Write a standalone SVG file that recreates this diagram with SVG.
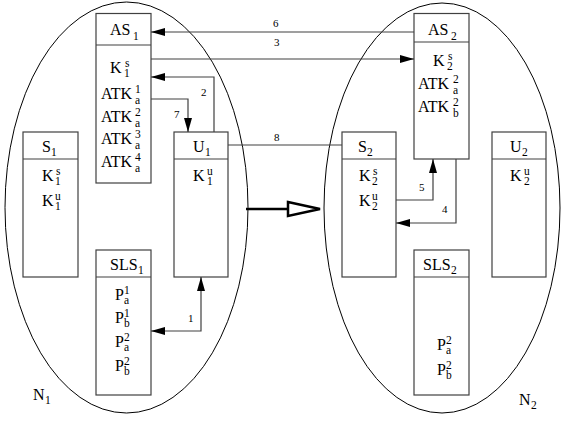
<svg xmlns="http://www.w3.org/2000/svg" width="561" height="421" viewBox="0 0 561 421" font-family="'Liberation Serif', 'Times New Roman', 'DejaVu Serif', serif">
<style>
text{font-family:'Liberation Serif','Times New Roman','DejaVu Serif',serif;fill:#000}
.m{font-size:16px}
.s{font-size:11.5px}
.l{font-size:11px}
.box{fill:#fff;stroke:#404040;stroke-width:1.2}
.div{stroke:#404040;stroke-width:1.2}
.net{fill:none;stroke:#000;stroke-width:1}
.c{fill:none;stroke:#404040;stroke-width:1.2}
</style>
<defs>
<marker id="ah" markerUnits="userSpaceOnUse" markerWidth="15" markerHeight="9" refX="14" refY="4" orient="auto-start-reverse" viewBox="0 0 15 9">
<path d="M0,0 L14,4 L0,8 z" fill="#000"/>
</marker>
</defs>
<g id="N1">
<ellipse class="net" cx="126.5" cy="207.5" rx="121.5" ry="205.5"/>
<text class="m" x="33" y="400">N</text><text class="s" x="45" y="404">1</text>
</g>
<g id="N2">
<ellipse class="net" cx="442" cy="208" rx="118" ry="205"/>
<text class="m" x="519" y="405">N</text><text class="s" x="531" y="409">2</text>
</g>
<g id="AS1">
<rect class="box" x="96" y="13.5" width="55" height="169.5"/>
<line class="div" x1="96" y1="45" x2="151" y2="45"/>
<text class="m" x="110" y="35">AS</text><text class="s" x="133" y="40">1</text>
<text class="m" x="110" y="73">K</text><text class="s" x="125" y="67">s</text><text class="s" x="124" y="77">1</text>
<text class="m" x="101" y="99">ATK</text><text class="s" x="135" y="93">1</text><text class="s" x="135" y="104">a</text>
<text class="m" x="101" y="122">ATK</text><text class="s" x="135" y="116">2</text><text class="s" x="135" y="127">a</text>
<text class="m" x="101" y="144">ATK</text><text class="s" x="135" y="138">3</text><text class="s" x="135" y="149">a</text>
<text class="m" x="101" y="167">ATK</text><text class="s" x="135" y="161">4</text><text class="s" x="135" y="172">a</text>
</g>
<g id="S1">
<rect class="box" x="23" y="132" width="55" height="145"/>
<line class="div" x1="23" y1="159" x2="78" y2="159"/>
<text class="m" x="42" y="152">S</text><text class="s" x="51" y="156">1</text>
<text class="m" x="42" y="181">K</text><text class="s" x="56" y="175">s</text><text class="s" x="55" y="185">1</text>
<text class="m" x="42" y="206">K</text><text class="s" x="55" y="200">u</text><text class="s" x="55" y="210">1</text>
</g>
<g id="U1">
<rect class="box" x="174" y="132" width="54" height="145"/>
<line class="div" x1="174" y1="159" x2="228" y2="159"/>
<text class="m" x="193" y="152">U</text><text class="s" x="205" y="156">1</text>
<text class="m" x="193" y="181">K</text><text class="s" x="207" y="175">u</text><text class="s" x="207" y="185">1</text>
</g>
<g id="SLS1">
<rect class="box" x="96" y="250" width="55" height="145"/>
<line class="div" x1="96" y1="277" x2="151" y2="277"/>
<text class="m" x="110" y="270">SLS</text><text class="s" x="138" y="274">1</text>
<text class="m" x="115" y="300">P</text><text class="s" x="124" y="294">1</text><text class="s" x="124" y="304">a</text>
<text class="m" x="115" y="323">P</text><text class="s" x="124" y="317">1</text><text class="s" x="124" y="327">b</text>
<text class="m" x="115" y="347">P</text><text class="s" x="124" y="341">2</text><text class="s" x="124" y="351">a</text>
<text class="m" x="115" y="371">P</text><text class="s" x="124" y="365">2</text><text class="s" x="124" y="375">b</text>
</g>
<g id="AS2">
<rect class="box" x="414" y="13.5" width="55" height="145.5"/>
<line class="div" x1="414" y1="42" x2="469" y2="42"/>
<text class="m" x="428" y="35">AS</text><text class="s" x="451" y="40">2</text>
<text class="m" x="433" y="66">K</text><text class="s" x="448" y="60">s</text><text class="s" x="447" y="70">2</text>
<text class="m" x="418" y="89">ATK</text><text class="s" x="453" y="83">2</text><text class="s" x="453" y="94">a</text>
<text class="m" x="418" y="112">ATK</text><text class="s" x="453" y="106">2</text><text class="s" x="453" y="117">b</text>
</g>
<g id="S2">
<rect class="box" x="342" y="132" width="54" height="145"/>
<line class="div" x1="342" y1="159" x2="396" y2="159"/>
<text class="m" x="358" y="152">S</text><text class="s" x="367" y="156">2</text>
<text class="m" x="359" y="181">K</text><text class="s" x="373" y="175">s</text><text class="s" x="372" y="185">2</text>
<text class="m" x="359" y="206">K</text><text class="s" x="372" y="200">u</text><text class="s" x="372" y="210">2</text>
</g>
<g id="U2">
<rect class="box" x="492" y="132" width="54" height="145"/>
<line class="div" x1="492" y1="159" x2="546" y2="159"/>
<text class="m" x="510" y="152">U</text><text class="s" x="522" y="156">2</text>
<text class="m" x="510" y="181">K</text><text class="s" x="524" y="175">u</text><text class="s" x="524" y="185">2</text>
</g>
<g id="SLS2">
<rect class="box" x="414" y="250" width="55" height="145"/>
<line class="div" x1="414" y1="277" x2="469" y2="277"/>
<text class="m" x="423" y="270">SLS</text><text class="s" x="451" y="274">2</text>
<text class="m" x="437" y="350">P</text><text class="s" x="446" y="344">2</text><text class="s" x="446" y="354">a</text>
<text class="m" x="437" y="375">P</text><text class="s" x="446" y="369">2</text><text class="s" x="446" y="379">b</text>
</g>
<g id="connectors">
<polyline class="c" points="414,32 151,32" marker-end="url(#ah)"/>
<text class="l" x="273" y="27">6</text>
<polyline class="c" points="151,59 414,59" marker-end="url(#ah)"/>
<text class="l" x="274" y="46">3</text>
<polyline class="c" points="214,132 214,77 151,77" marker-end="url(#ah)"/>
<text class="l" x="201" y="96">2</text>
<polyline class="c" points="151,99 188,99 188,132" marker-end="url(#ah)"/>
<text class="l" x="174" y="118">7</text>
<polyline class="c" points="228,145 342,145"/>
<text class="l" x="274" y="141">8</text>
<polyline class="c" points="151,331 201,331 201,277" marker-start="url(#ah)" marker-end="url(#ah)"/>
<text class="l" x="188" y="322">1</text>
<polyline class="c" points="396,200 433,200 433,159" marker-end="url(#ah)"/>
<text class="l" x="419" y="191">5</text>
<polyline class="c" points="456,159 456,223 396,223" marker-end="url(#ah)"/>
<text class="l" x="442" y="213">4</text>
<line x1="246" y1="209" x2="288" y2="209" stroke="#000" stroke-width="2.5"/>
<polygon points="288,202 320,209 288,216" fill="#fff" stroke="#000" stroke-width="2.5" stroke-linejoin="miter"/>
</g>
</svg>
